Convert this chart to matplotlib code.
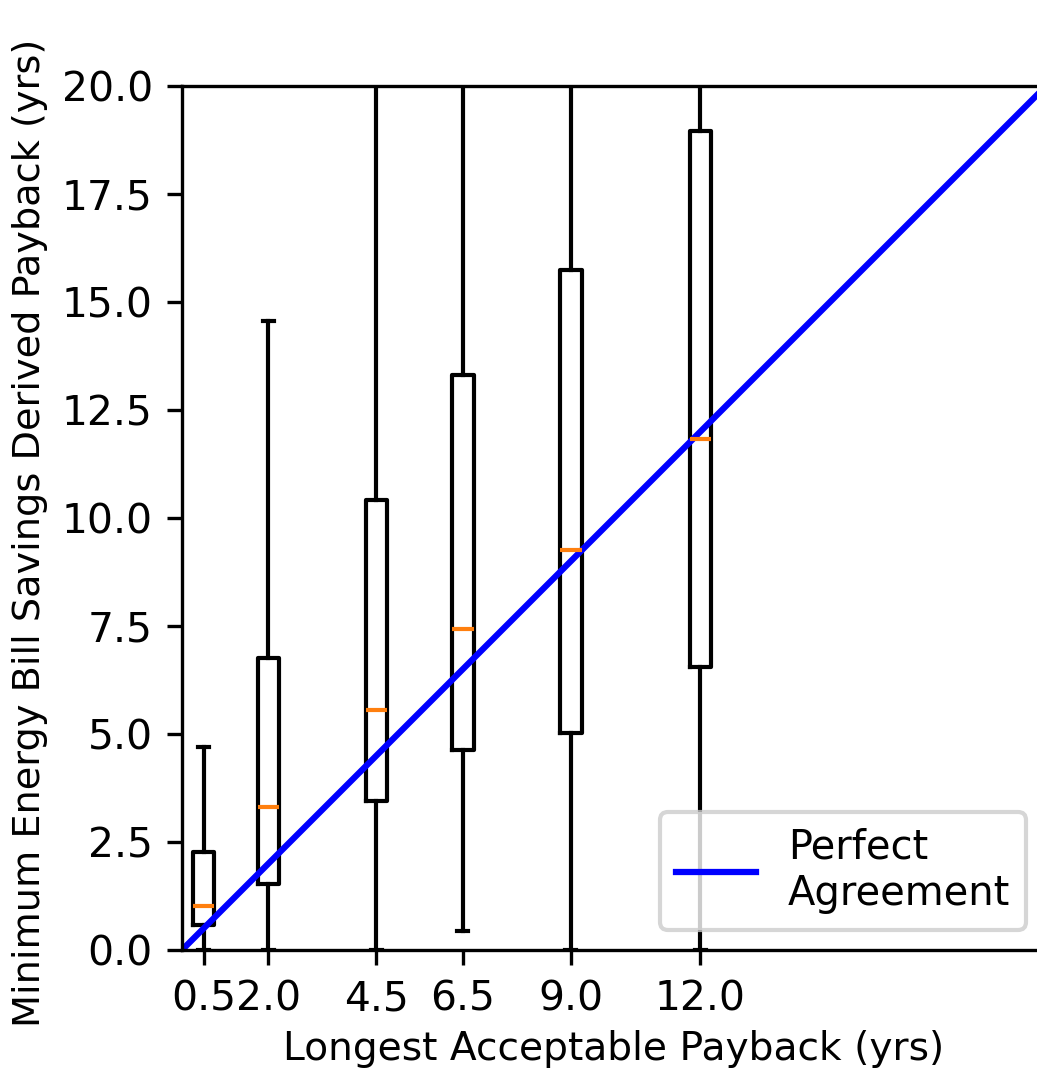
import matplotlib
matplotlib.use("Agg")
import matplotlib.pyplot as plt
import numpy as np

# payback categories (yrs) and box statistics
positions = [0.5, 2.0, 4.5, 6.5, 9.0, 12.0]
tick_labels = ["0.5", "2.0", "4.5", "6.5", "9.0", "12.0"]
whislo = [0.0, 0.0, 0.0, 0.45, 0.0, 0.0]
q1 = [0.58, 1.53, 3.45, 4.62, 5.02, 6.55]
med = [1.02, 3.31, 5.56, 7.43, 9.26, 11.83]
q3 = [2.26, 6.76, 10.42, 13.31, 15.74, 18.95]
whishi = [4.70, 14.56, 22.0, 24.0, 27.0, 31.0]

stats = []
for lo, a, m, b, hi in zip(whislo, q1, med, q3, whishi):
    stats.append(dict(whislo=lo, q1=a, med=m, q3=b, whishi=hi, fliers=[]))

fig = plt.figure(figsize=(1037 / 300, 1074 / 300), dpi=300)
ax = fig.add_axes([182 / 1037, 124 / 1074, 864 / 1037, 864 / 1074])

ax.bxp(stats, positions=positions, widths=0.5, showfliers=False)
diag = np.array([0, 20])
ax.plot(diag, diag, color="blue", label="Perfect\nAgreement")

ax.set_xlim(0, 20)
ax.set_ylim(0, 20)
ax.set_xticks(positions)
ax.set_xticklabels(tick_labels)
ax.tick_params(labelsize=9.8)
ax.set_xlabel("Longest Acceptable Payback (yrs)", fontsize=9.4, labelpad=2.5)
ax.set_ylabel("Minimum Energy Bill Savings Derived Payback (yrs)", fontsize=9.2)
ax.yaxis.set_label_coords(-0.155, 0.483)
ax.legend(loc="lower right", fontsize=9.6)

fig.savefig("out.png", dpi=300)
